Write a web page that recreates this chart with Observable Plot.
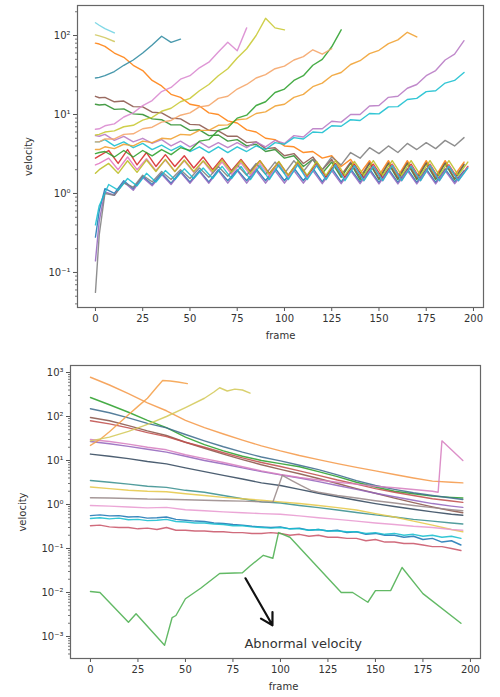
<!DOCTYPE html>
<html>
<head>
<meta charset="utf-8">
<script src="https://cdn.jsdelivr.net/npm/d3@7"></script>
<script src="https://cdn.jsdelivr.net/npm/@observablehq/plot@0.6"></script>
<style>
  html, body { margin: 0; padding: 0; background: #fff; }
  #chart svg { display: block; }
</style>
</head>
<body>
<div id="chart"></div>
<script>
// ---------- shared tick labels ----------
const xTicks = [0, 25, 50, 75, 100, 125, 150, 175, 200];
const topYTicks = [0.1, 1, 10, 100];
const topYLabels = ["10\u207B\u00B9", "10\u2070", "10\u00B9", "10\u00B2"];
const botYTicks = [0.001, 0.01, 0.1, 1, 10, 100, 1000];
const botYLabels = ["10\u207B\u00B3", "10\u207B\u00B2", "10\u207B\u00B9", "10\u2070", "10\u00B9", "10\u00B2", "10\u00B3"];
const xLabel = "frame";
const yLabel = "velocity";

// ---------- top panel data ----------
const topFrames = [0,2,5,10,15,20,25,30,35,40,45,50,55,60,65,70,75,80,85,90,95,100,105,110,115,120,125,130,135,140,145,150,155,160,165,170,175,180,185,190,195];
const topFramesB = [0,2,7,12,17,22,27,32,37,42,47,52,57,62,67,72,77,82,87,92,97,102,107,112,117,122,127,132,137,142,147,152,157,162,167,172,177,182,187,192,197];

const tCyanShort = [145, 135, 122, 108];
const tOliveShort = [102, 99, 94, 84];
const tOrangeDesc = [80,78,73,60,53,42,36,27,23,18,16.5,13.5,12.8,10.5,10,8.3,7.8,6.4,6.0,5.0,4.8,4.0,3.9,3.3,3.4,2.8,3.0,2.2,2.7,1.8,2.6,1.7,2.6,1.65,2.6,1.65,2.6,1.65,2.6,1.7,2.5];
const tTeal = [29,29.5,31,35,42,49,60,76,98,82,90];
const tPinkRise = [6.5,6.6,7.2,7.6,9.3,10.5,13,15,19.5,22,28,31,39,46,62,82,64,125];
const tOliveRise = [5.5,5.6,6.0,6.2,7.0,7.3,8.5,9.2,11,12,14.5,16,20,24,31,38,52,68,100,165,125,118];
const tPeachRise = [4.5,4.5,4.9,4.9,5.6,5.7,6.6,6.9,8.0,8.4,9.8,10.5,12.5,13,16,17,21,24,29,32,38,41,49,54,66,58,68];
const tGreenRise = [3.2,3.3,3.4,2.9,3.5,2.9,3.5,3.0,3.6,3.1,3.8,3.5,4.6,4.8,6.3,6.8,9.0,9.8,13,14.5,19,21,27,31,42,50,72,118];
const tGoldRise = [3.6,3.6,3.9,3.7,4.2,4.0,4.6,4.4,5.0,4.9,5.6,5.5,6.3,6.3,7.3,7.4,8.6,8.8,10.3,10.8,12.8,13.5,16.5,18,22.5,25,31,34,43,48,59,65,79,88,110,96];
const tMauveRise = [5.4,5.3,5.6,4.7,5.3,4.5,5.0,4.3,4.8,4.0,4.6,3.9,4.5,3.8,4.4,3.8,4.4,3.8,4.5,3.9,4.7,4.3,5.4,5.2,6.6,6.6,8.2,8.0,10,10,12.8,13,16.5,17,21.5,24,31,36,49,58,86];
const tCyanRise = [4.5,4.5,4.8,4.0,4.5,3.8,4.3,3.6,4.1,3.5,4.0,3.4,3.9,3.3,3.9,3.3,3.9,3.4,4.0,3.6,4.4,4.2,5.1,4.9,6.0,5.9,7.2,7.1,8.6,8.4,10.3,10.2,12.5,12.6,15.5,16,19.5,20,25,27,34];
const tGrayRise = [0.056,0.3,1.0,0.95,1.35,1.2,1.7,1.4,1.9,1.5,2.0,1.55,2.1,1.6,2.2,1.65,2.3,1.7,2.4,1.75,2.5,1.8,2.6,1.9,2.7,2.0,2.9,2.3,3.3,2.8,3.8,3.2,4.0,3.3,4.3,3.6,4.4,3.7,4.7,4.0,5.1];
const tBlueBand = [0.28,0.6,1.15,1.0,1.45,1.15,1.65,1.3,1.8,1.35,1.9,1.4,1.95,1.4,2.0,1.45,2.0,1.45,2.05,1.45,2.1,1.45,2.1,1.45,2.1,1.4,2.1,1.4,2.05,1.4,2.05,1.38,2.05,1.38,2.05,1.38,2.05,1.38,2.05,1.4,1.95];
const tCyanBand = [0.4,0.7,1.3,1.1,1.55,1.25,1.8,1.4,1.95,1.5,2.05,1.55,2.1,1.55,2.2,1.55,2.2,1.5,2.25,1.5,2.3,1.5,2.3,1.5,2.25,1.5,2.3,1.45,2.25,1.45,2.2,1.45,2.25,1.45,2.2,1.45,2.25,1.45,2.2,1.45,2.1];
const tPurpleBand = [0.14,0.45,1.05,0.95,1.4,1.1,1.6,1.25,1.75,1.3,1.85,1.35,1.9,1.35,1.95,1.35,1.95,1.35,1.95,1.35,1.95,1.35,1.95,1.35,1.95,1.33,1.95,1.33,1.95,1.33,1.95,1.32,1.95,1.32,1.95,1.32,1.95,1.32,1.95,1.33,1.85];
const tRedBand = [2.8,3.0,3.5,2.4,3.6,2.3,3.3,2.2,3.1,2.2,3.0,2.1,2.9,2.0,2.8,1.95,2.7,1.9,2.6,1.8,2.5,1.7,2.45,1.65,2.4,1.6,2.4,1.6,2.35,1.55,2.35,1.55,2.35,1.5,2.35,1.5,2.35,1.5,2.3,1.5,2.2];
const tBrownDesc = [17,16.3,16.5,14.5,14.8,12.6,12.5,10.7,10.5,9.0,8.8,7.5,7.4,6.3,6.2,5.3,5.3,4.4,4.5,3.7,3.8,3.0,3.2,2.4,2.9,2.0,2.7,1.7,2.5,1.6,2.45,1.55,2.45,1.55,2.45,1.55,2.45,1.55,2.45,1.55,2.35];
const tGreenDesc = [13.5,13.2,13.4,11.6,11.8,10.2,10.0,8.8,8.6,7.4,7.4,6.3,6.4,5.4,5.5,4.6,4.8,4.0,4.2,3.4,3.6,2.8,3.0,2.2,2.7,1.8,2.5,1.6,2.4,1.5,2.4,1.5,2.4,1.5,2.4,1.5,2.4,1.5,2.4,1.5,2.3];
const tPinkBand = [2.3,2.4,2.8,2.0,2.9,2.0,2.75,1.95,2.65,1.9,2.6,1.85,2.55,1.8,2.5,1.75,2.45,1.7,2.4,1.65,2.4,1.6,2.35,1.55,2.3,1.5,2.3,1.5,2.25,1.45,2.25,1.45,2.3,1.45,2.25,1.45,2.3,1.45,2.25,1.45,2.15];
const tOliveBand = [1.8,2.0,2.4,1.8,2.6,1.85,2.65,1.9,2.7,1.9,2.65,1.9,2.6,1.9,2.65,1.85,2.6,1.8,2.6,1.75,2.55,1.7,2.55,1.7,2.55,1.7,2.6,1.7,2.55,1.7,2.6,1.7,2.6,1.7,2.6,1.7,2.6,1.7,2.6,1.7,2.5];

// [frames, values, colour]
const topSeries = [
  [topFrames, tBlueBand, "#1f77b4"], [topFrames, tOrangeDesc, "#ff7f0e"], [topFrames, tGreenDesc, "#2f8f2f"], [topFramesB, tRedBand, "#d62728"],
  [topFrames, tPurpleBand, "#9467bd"], [topFrames, tBrownDesc, "#8c564b"], [topFramesB, tPinkBand, "#e377c2"], [topFrames, tGrayRise, "#7f7f7f"],
  [topFramesB, tOliveBand, "#bcbd22"], [topFramesB, tCyanBand, "#17becf"], [topFrames, tMauveRise, "#b779c4"], [topFrames, tCyanRise, "#17becf"],
  [topFrames, tGoldRise, "#f0a030"], [topFrames, tGreenRise, "#2ca02c"], [topFrames, tPeachRise, "#f5a467"], [topFrames, tOliveRise, "#c8c832"],
  [topFrames, tPinkRise, "#d987cf"], [topFrames, tTeal, "#2f8aa0"], [topFrames, tOliveShort, "#d0c860"], [topFrames, tCyanShort, "#6fd3e3"]
];

// ---------- bottom panel data ----------
const botFrames = [0,10,20,30,40,50,60,70,80,90,100,110,120,130,140,150,160,170,180,190,196];
const bOrangeTop = [780,520,330,205,135,82,56,40,29,21.5,16.5,13,10.5,8.5,7,5.8,4.8,4.0,3.4,3.2,3.1];
const bGreen = [270,185,125,82,56,34,23,16.5,12.5,10,8.5,7.2,5.6,4.3,3.2,2.5,2.0,1.75,1.55,1.45,1.4];
const bSlate = [150,122,93,70,55,39,28,20.5,15.5,12,9.8,7.8,6.2,4.7,3.5,2.7,2.2,1.85,1.6,1.4,1.3];
const bBrown = [95,80,62,47,37,26,19,14,10.5,8,6.3,5,3.9,3.0,2.3,1.8,1.4,1.1,0.88,0.72,0.65];
const bRed = [80,68,55,43,35,26,20,15,11.5,9,7.3,5.8,4.6,3.6,2.9,2.3,1.9,1.6,1.35,1.2,1.12];
const bPurple = [27,24,21,18,15.5,12.5,10,8.3,6.8,5.6,4.7,4.0,3.3,2.7,2.2,1.8,1.5,1.25,1.05,0.92,0.86];
const bDarkSlate = [14,12.5,11,9.5,8.4,6.8,5.6,4.6,3.8,3.1,2.7,2.2,1.8,1.5,1.25,1.05,0.9,0.78,0.68,0.6,0.57];
const bTeal = [3.5,3.2,2.9,2.6,2.45,2.1,1.9,1.6,1.35,1.15,1.08,0.95,0.85,0.75,0.66,0.58,0.52,0.46,0.42,0.38,0.36];
const bYellow = [2.5,2.3,2.1,2.0,1.95,1.75,1.6,1.45,1.35,1.25,1.15,1.05,0.95,0.85,0.75,0.62,0.52,0.42,0.34,0.27,0.24];
const bPinkLight = [0.95,0.92,0.88,0.84,0.86,0.76,0.72,0.68,0.65,0.62,0.6,0.55,0.5,0.46,0.42,0.38,0.35,0.32,0.3,0.27,0.26];

const pinkSpikeFrames = [0,10,20,30,40,50,60,70,80,90,100,110,120,130,140,150,160,170,180,183,185,196];
const bPinkSpike = [30,27,23.5,20,17.5,13.5,11,9,7.2,5.8,4.8,4.1,3.6,3.2,2.9,2.6,2.4,2.2,2.0,1.9,28,10];

const graySpikeFrames = [0,10,20,30,40,50,60,70,80,90,96,101,106,111,116,120,130,140,150,160,170,180,190,196];
const bGraySpike = [1.42,1.4,1.37,1.33,1.32,1.28,1.25,1.22,1.19,1.15,1.13,4.6,3.5,2.7,2.1,1.9,1.6,1.4,1.22,1.08,0.95,0.85,0.76,0.72];

const noisyFrames = [0,5,10,15,20,25,30,35,40,45,50,55,60,65,70,75,80,85,90,95,100,105,110,115,120,125,130,135,140,145,150,155,160,165,170,175,180,185,190,195];
const bBlueNoisy = [0.56,0.58,0.55,0.56,0.52,0.53,0.49,0.5,0.52,0.46,0.44,0.42,0.41,0.38,0.37,0.35,0.34,0.32,0.31,0.3,0.31,0.28,0.29,0.26,0.27,0.25,0.26,0.23,0.24,0.21,0.22,0.2,0.2,0.18,0.19,0.16,0.17,0.14,0.15,0.12];
const bCyanNoisy = [0.48,0.5,0.47,0.49,0.45,0.46,0.43,0.44,0.46,0.41,0.4,0.38,0.38,0.36,0.35,0.33,0.33,0.31,0.3,0.29,0.3,0.28,0.28,0.26,0.27,0.25,0.25,0.24,0.24,0.22,0.23,0.21,0.22,0.2,0.21,0.19,0.2,0.18,0.19,0.17];
const bRedNoisy = [0.33,0.34,0.31,0.3,0.3,0.28,0.29,0.27,0.3,0.26,0.26,0.25,0.25,0.24,0.24,0.23,0.23,0.22,0.22,0.23,0.22,0.2,0.21,0.19,0.2,0.18,0.18,0.17,0.17,0.15,0.16,0.14,0.14,0.13,0.13,0.12,0.11,0.11,0.1,0.09];

const orangeRiseFrames = [0,5,10,15,20,25,30,35,38,42,46,51];
const bOrangeRise = [22,30,45,70,110,170,260,470,660,640,610,560];
const oliveRiseFrames = [0,10,20,30,40,50,60,65,68,72,76,80,84];
const bOliveRise = [28,34,46,66,100,160,260,360,450,380,420,400,340];

const abnormalFrames = [0,5,20,24,39,43,45,50,58,68,80,84,91,96,99,105,132,138,146,150,158,164,175,195];
const bAbnormal = [0.0105,0.01,0.0021,0.0033,0.00063,0.0027,0.003,0.0072,0.0125,0.027,0.028,0.04,0.07,0.06,0.23,0.18,0.01,0.01,0.006,0.011,0.011,0.037,0.0094,0.002];

const annotationText = ["Abnormal velocity"];
const annotationTextAt = [112, 0.00068];
const arrowFrom = [81.6, 0.021];
const arrowTo = [95.8, 0.0018];

const botSeries = [
  [botFrames, bOrangeTop, "#f59a4a"], [botFrames, bGreen, "#2ca02c"], [botFrames, bSlate, "#3f6d8e"],
  [botFrames, bBrown, "#8c564b"], [botFrames, bRed, "#c0504d"], [botFrames, bPurple, "#9467bd"],
  [botFrames, bDarkSlate, "#34495e"], [botFrames, bTeal, "#3a8f8f"], [botFrames, bYellow, "#e6c84a"],
  [botFrames, bPinkLight, "#e89ad0"], [pinkSpikeFrames, bPinkSpike, "#d77fc0"], [graySpikeFrames, bGraySpike, "#9a8a8a"],
  [noisyFrames, bBlueNoisy, "#1f77b4"], [noisyFrames, bCyanNoisy, "#17becf"], [noisyFrames, bRedNoisy, "#c9566a"],
  [orangeRiseFrames, bOrangeRise, "#f5a04a"], [oliveRiseFrames, bOliveRise, "#d4c95a"],
  [abnormalFrames, bAbnormal, "#4caf50"]
];

// ---------- helpers ----------
const toRows = (frames, values) => values.map((v, i) => ({f: frames[i], v})).filter(d => d.f != null);
function minorTicks(domain) {
  const out = [];
  for (let e = -5; e <= 4; e++) for (let m = 2; m <= 9; m++) {
    const t = m * Math.pow(10, e);
    if (t >= domain[0] && t <= domain[1]) out.push(t);
  }
  return out;
}
function axes(yTicks, yLabels, domain, labelDx, frameDx) {
  const lab = new Map(yTicks.map((t, i) => [t, yLabels[i]]));
  return [
    Plot.axisX(xTicks, {tickSize: 4, tickPadding: 3, fontSize: 10, stroke: "#555", fill: "#333", label: null}),
    Plot.axisY(yTicks, {tickSize: 4, tickPadding: 3, fontSize: 10, stroke: "#555", fill: "#333", label: null, tickFormat: d => lab.get(d)}),
    Plot.axisY(minorTicks(domain), {tickSize: 2, stroke: "#777", label: null, tickFormat: () => ""}),
    Plot.frame({stroke: "#666", strokeWidth: 1.2}),
    Plot.text([yLabel], {frameAnchor: "left", dx: labelDx, rotate: -90, textAnchor: "middle", lineAnchor: "middle", fontSize: 10, fill: "#333"}),
    Plot.text([xLabel], {frameAnchor: "bottom", dy: 28, dx: frameDx, textAnchor: "middle", lineAnchor: "middle", fontSize: 10, fill: "#333"})
  ];
}

const topDomain = [0.036, 240];
const botDomain = [0.000316, 1443];

// ---------- top chart ----------
const topChart = Plot.plot({
  width: 500, height: 350,
  marginLeft: 77, marginRight: 17, marginTop: 5, marginBottom: 43,
  style: {fontFamily: "DejaVu Sans, sans-serif", background: "#fff"},
  x: {domain: [-9.5, 205.3]},
  y: {type: "log", domain: topDomain},
  marks: [
    ...topSeries.map(([fr, vals, color]) => Plot.line(toRows(fr, vals), {x: "f", y: "v", stroke: color, strokeWidth: 1.4, strokeOpacity: 0.88})),
    ...axes(topYTicks, topYLabels, topDomain, -49, 0)
  ]
});

// ---------- bottom chart ----------
const bottomChart = Plot.plot({
  width: 500, height: 347,
  marginLeft: 70, marginRight: 20, marginTop: 15, marginBottom: 39,
  style: {fontFamily: "DejaVu Sans, sans-serif", background: "#fff"},
  x: {domain: [-10.5, 205.3]},
  y: {type: "log", domain: botDomain},
  marks: [
    ...botSeries.map(([fr, vals, color]) => Plot.line(toRows(fr, vals), {x: "f", y: "v", stroke: color, strokeWidth: 1.4, strokeOpacity: 0.88})),
    Plot.arrow([{x1: arrowFrom[0], y1: arrowFrom[1], x2: arrowTo[0], y2: arrowTo[1]}], {x1: "x1", y1: "y1", x2: "x2", y2: "y2", stroke: "#111", strokeWidth: 2.2, headLength: 9}),
    Plot.text(annotationText, {x: annotationTextAt[0], y: annotationTextAt[1], fontSize: 13, fill: "#333", textAnchor: "middle"}),
    ...axes(botYTicks, botYLabels, botDomain, -48, 8)
  ]
});

const chart = document.getElementById("chart");
chart.appendChild(topChart);
chart.appendChild(bottomChart);
</script>
</body>
</html>
